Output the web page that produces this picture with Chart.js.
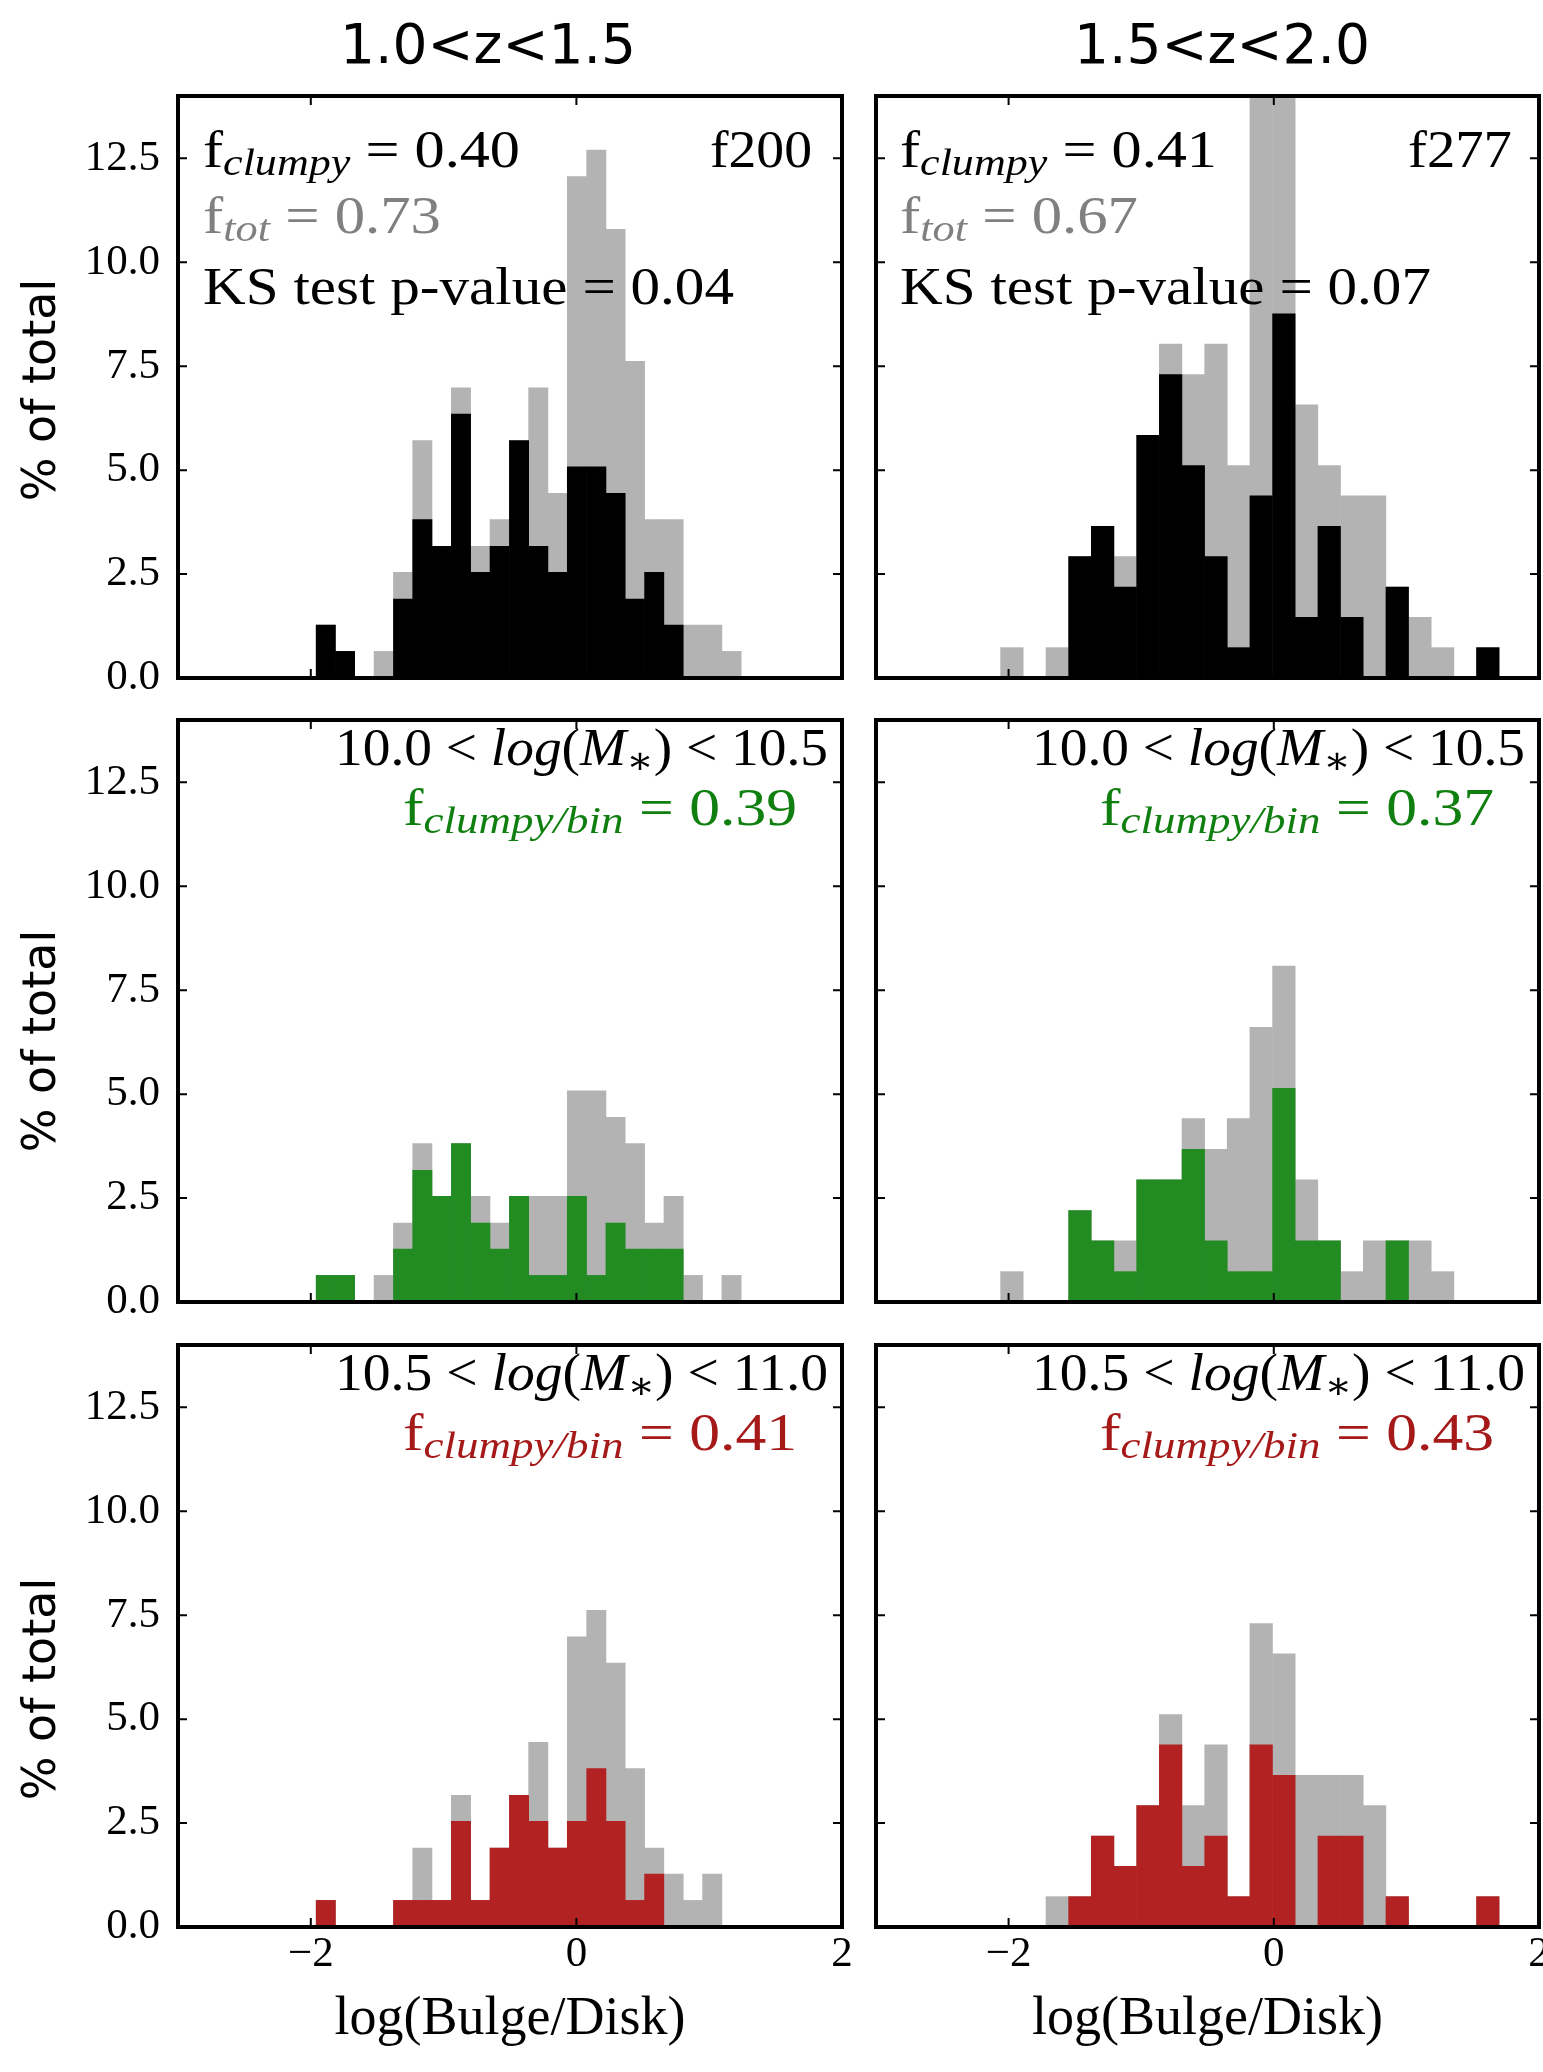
<!DOCTYPE html>
<html>
<head>
<meta charset="utf-8">
<script src="https://cdn.jsdelivr.net/npm/chart.js@4.4.1/dist/chart.umd.min.js"></script>
<style>
html, body { margin: 0; padding: 0; background: #ffffff; }
#page { position: relative; width: 1543px; height: 2072px; overflow: hidden; background: #ffffff; }
.box { position: absolute; }
.box canvas { display: block; }
#ann { position: absolute; left: 0; top: 0; }
#ann text { white-space: pre; }
</style>
</head>
<body>
<div id="page">
  <div class="box" id="box0"><canvas id="c0"></canvas></div>
  <div class="box" id="box1"><canvas id="c1"></canvas></div>
  <div class="box" id="box2"><canvas id="c2"></canvas></div>
  <div class="box" id="box3"><canvas id="c3"></canvas></div>
  <div class="box" id="box4"><canvas id="c4"></canvas></div>
  <div class="box" id="box5"><canvas id="c5"></canvas></div>

  <svg id="ann" width="1543" height="2072" font-family="'Liberation Serif', 'DejaVu Serif', serif" font-size="52" fill="#000000">
    <!-- column titles -->
    <text x="488" y="63" font-family="'DejaVu Sans', sans-serif" font-size="55" text-anchor="middle">1.0&lt;z&lt;1.5</text>
    <text x="1222" y="63" font-family="'DejaVu Sans', sans-serif" font-size="55" text-anchor="middle">1.5&lt;z&lt;2.0</text>

    <!-- y axis labels -->
    <text transform="translate(55,390) rotate(-90)" font-family="'DejaVu Sans', sans-serif" font-size="46" text-anchor="middle">% of total</text>
    <text transform="translate(55,1041) rotate(-90)" font-family="'DejaVu Sans', sans-serif" font-size="46" text-anchor="middle">% of total</text>
    <text transform="translate(55,1689) rotate(-90)" font-family="'DejaVu Sans', sans-serif" font-size="46" text-anchor="middle">% of total</text>

    <!-- top-left annotations -->
    <text x="203" y="167" textLength="317" lengthAdjust="spacingAndGlyphs">f<tspan font-size="38" font-style="italic" dy="8">clumpy</tspan><tspan dy="-8"> = 0.40</tspan></text>
    <text x="812" y="167" text-anchor="end" textLength="102" lengthAdjust="spacingAndGlyphs">f200</text>
    <text x="203" y="233" fill="#808080" textLength="238" lengthAdjust="spacingAndGlyphs">f<tspan font-size="38" font-style="italic" dy="8">tot</tspan><tspan dy="-8"> = 0.73</tspan></text>
    <text x="203" y="304" textLength="531" lengthAdjust="spacingAndGlyphs">KS test p-value = 0.04</text>

    <!-- top-right annotations -->
    <text x="900" y="167" textLength="317" lengthAdjust="spacingAndGlyphs">f<tspan font-size="38" font-style="italic" dy="8">clumpy</tspan><tspan dy="-8"> = 0.41</tspan></text>
    <text x="1512" y="167" text-anchor="end" textLength="104" lengthAdjust="spacingAndGlyphs">f277</text>
    <text x="900" y="233" fill="#808080" textLength="238" lengthAdjust="spacingAndGlyphs">f<tspan font-size="38" font-style="italic" dy="8">tot</tspan><tspan dy="-8"> = 0.67</tspan></text>
    <text x="900" y="304" textLength="531" lengthAdjust="spacingAndGlyphs">KS test p-value = 0.07</text>

    <!-- middle row -->
    <text x="828" y="765" text-anchor="end" textLength="493" lengthAdjust="spacingAndGlyphs">10.0 &lt; <tspan font-style="italic">log</tspan>(<tspan font-style="italic">M</tspan><tspan font-size="38" dy="8">∗</tspan><tspan dy="-8">) &lt; 10.5</tspan></text>
    <text x="797" y="825" fill="#0f7f0f" text-anchor="end" textLength="394" lengthAdjust="spacingAndGlyphs">f<tspan font-size="38" font-style="italic" dy="8">clumpy/bin</tspan><tspan dy="-8"> = 0.39</tspan></text>
    <text x="1525" y="765" text-anchor="end" textLength="493" lengthAdjust="spacingAndGlyphs">10.0 &lt; <tspan font-style="italic">log</tspan>(<tspan font-style="italic">M</tspan><tspan font-size="38" dy="8">∗</tspan><tspan dy="-8">) &lt; 10.5</tspan></text>
    <text x="1494" y="825" fill="#0f7f0f" text-anchor="end" textLength="394" lengthAdjust="spacingAndGlyphs">f<tspan font-size="38" font-style="italic" dy="8">clumpy/bin</tspan><tspan dy="-8"> = 0.37</tspan></text>

    <!-- bottom row -->
    <text x="828" y="1390" text-anchor="end" textLength="493" lengthAdjust="spacingAndGlyphs">10.5 &lt; <tspan font-style="italic">log</tspan>(<tspan font-style="italic">M</tspan><tspan font-size="38" dy="8">∗</tspan><tspan dy="-8">) &lt; 11.0</tspan></text>
    <text x="797" y="1450" fill="#a51919" text-anchor="end" textLength="394" lengthAdjust="spacingAndGlyphs">f<tspan font-size="38" font-style="italic" dy="8">clumpy/bin</tspan><tspan dy="-8"> = 0.41</tspan></text>
    <text x="1525" y="1390" text-anchor="end" textLength="493" lengthAdjust="spacingAndGlyphs">10.5 &lt; <tspan font-style="italic">log</tspan>(<tspan font-style="italic">M</tspan><tspan font-size="38" dy="8">∗</tspan><tspan dy="-8">) &lt; 11.0</tspan></text>
    <text x="1494" y="1450" fill="#a51919" text-anchor="end" textLength="394" lengthAdjust="spacingAndGlyphs">f<tspan font-size="38" font-style="italic" dy="8">clumpy/bin</tspan><tspan dy="-8"> = 0.43</tspan></text>
  </svg>
</div>

<script>
// ---------------- DATA ----------------
// bin centres of log(Bulge/Disk)
const binsLeft  = [-1.887, -1.742, -1.596, -1.451, -1.305, -1.160, -1.014, -0.869, -0.723, -0.578, -0.432,
                   -0.287, -0.141, 0.004, 0.150, 0.295, 0.441, 0.586, 0.732, 0.877, 1.023, 1.168];
const binsRight = [-1.975, -1.804, -1.633, -1.462, -1.291, -1.120, -0.949, -0.778, -0.607, -0.436, -0.266,
                   -0.095, 0.076, 0.247, 0.418, 0.589, 0.760, 0.931, 1.102, 1.273, 1.443, 1.614];

// % of total — grey (all) and coloured (clumpy) histograms
const greyTopLeft   = [1.27, 0.64, 0, 0.64, 2.54, 5.71, 3.17, 6.98, 3.17, 3.81, 5.71, 6.98, 4.44, 12.06, 12.70, 10.79, 7.62, 3.81, 3.81, 1.27, 1.27, 0.64];
const clumpyTopLeft = [1.27, 0.64, 0, 0, 1.90, 3.81, 3.17, 6.35, 2.54, 3.17, 5.71, 3.17, 2.54, 5.08, 5.08, 4.44, 1.90, 2.54, 1.27, 0, 0, 0];

const greyTopRight   = [0.73, 0, 0.73, 2.92, 3.65, 2.92, 5.84, 8.03, 7.30, 8.03, 5.11, 15.3, 15.3, 6.57, 5.11, 4.38, 4.38, 2.19, 1.46, 0.73, 0, 0.73];
const clumpyTopRight = [0, 0, 0, 2.92, 3.65, 2.19, 5.84, 7.30, 5.11, 2.92, 0.73, 4.38, 8.76, 1.46, 3.65, 1.46, 0, 2.19, 0, 0, 0, 0.73];

const greyMidLeft   = [0.64, 0.64, 0, 0.64, 1.90, 3.81, 2.54, 3.81, 2.54, 1.90, 2.54, 2.54, 2.54, 5.08, 5.08, 4.44, 3.81, 1.90, 2.54, 0.64, 0, 0.64];
const clumpyMidLeft = [0.64, 0.64, 0, 0, 1.27, 3.17, 2.54, 3.81, 1.90, 1.27, 2.54, 0.64, 0.64, 2.54, 0.64, 1.90, 1.27, 1.27, 1.27, 0, 0, 0];

const greyMidRight   = [0.73, 0, 0, 2.20, 1.47, 1.47, 2.94, 2.94, 4.41, 3.67, 4.41, 6.61, 8.08, 2.94, 1.47, 0.73, 1.47, 1.47, 1.47, 0.73, 0, 0];
const clumpyMidRight = [0, 0, 0, 2.20, 1.47, 0.73, 2.94, 2.94, 3.67, 1.47, 0.73, 0.73, 5.14, 1.47, 1.47, 0, 0, 1.47, 0, 0, 0, 0];

const greyBotLeft   = [0.64, 0, 0, 0, 0.64, 1.90, 0.64, 3.17, 0.64, 1.90, 3.17, 4.44, 1.90, 6.98, 7.62, 6.35, 3.81, 1.90, 1.27, 0.64, 1.27, 0];
const clumpyBotLeft = [0.64, 0, 0, 0, 0.64, 0.64, 0.64, 2.54, 0.64, 1.90, 3.17, 2.54, 1.90, 2.54, 3.81, 2.54, 0.64, 1.27, 0, 0, 0, 0];

const greyBotRight   = [0, 0, 0.73, 0.73, 2.19, 1.46, 2.92, 5.11, 2.92, 4.38, 0.73, 7.30, 6.57, 3.65, 3.65, 3.65, 2.92, 0.73, 0, 0, 0, 0.73];
const clumpyBotRight = [0, 0, 0, 0.73, 2.19, 1.46, 2.92, 4.38, 1.46, 2.19, 0.73, 4.38, 3.65, 0, 2.19, 2.19, 0, 0.73, 0, 0, 0, 0.73];

// axis ticks
const yTicks = [0, 2.5, 5, 7.5, 10, 12.5];
const xTicks = [-2, 0, 2];
const xTickLabels = ['\u22122', '0', '2'];
const xTitle = 'log(Bulge/Disk)';

// ---------------- LAYOUT / STYLE ----------------
const GREY = '#b3b3b3';
const colGeom = [
  { left: 0,   width: 860, padL: 0,  padR: 18, yW: 178, showY: true },
  { left: 860, width: 683, padL: 16, padR: 4,  yW: 0,   showY: false }
];
const rowGeom = [
  { top: 0,    height: 700, padT: 96, padB: 22, showX: false, xH: 0 },
  { top: 700,  height: 625, padT: 20, padB: 23, showX: false, xH: 0 },
  { top: 1325, height: 747, padT: 20, padB: 0,  showX: true,  xH: 145 }
];
const panels = [
  { id: 0, col: 0, row: 0, bins: binsLeft,  grey: greyTopLeft,  fg: clumpyTopLeft,  color: '#000000' },
  { id: 1, col: 1, row: 0, bins: binsRight, grey: greyTopRight, fg: clumpyTopRight, color: '#000000' },
  { id: 2, col: 0, row: 1, bins: binsLeft,  grey: greyMidLeft,  fg: clumpyMidLeft,  color: '#228b22' },
  { id: 3, col: 1, row: 1, bins: binsRight, grey: greyMidRight, fg: clumpyMidRight, color: '#228b22' },
  { id: 4, col: 0, row: 2, bins: binsLeft,  grey: greyBotLeft,  fg: clumpyBotLeft,  color: '#b22222' },
  { id: 5, col: 1, row: 2, bins: binsRight, grey: greyBotRight, fg: clumpyBotRight, color: '#b22222' }
];

const framePlugin = {
  id: 'frameTicks',
  afterDraw(chart) {
    const ctx = chart.ctx;
    const a = chart.chartArea;
    const xs = chart.scales.x, ys = chart.scales.y;
    ctx.save();
    ctx.strokeStyle = '#000000';
    ctx.lineWidth = 2;
    ctx.beginPath();
    yTicks.forEach(v => {
      const p = ys.getPixelForValue(v);
      ctx.moveTo(a.left, p); ctx.lineTo(a.left + 9, p);
      ctx.moveTo(a.right, p); ctx.lineTo(a.right - 9, p);
    });
    xTicks.forEach(v => {
      const p = xs.getPixelForValue(v);
      ctx.moveTo(p, a.top); ctx.lineTo(p, a.top + 9);
      ctx.moveTo(p, a.bottom); ctx.lineTo(p, a.bottom - 9);
    });
    ctx.stroke();
    ctx.lineWidth = 4;
    ctx.strokeRect(a.left, a.top, a.right - a.left, a.bottom - a.top);
    ctx.restore();
  }
};

Chart.defaults.font.family = "'Liberation Serif', 'DejaVu Serif', serif";
Chart.defaults.color = '#000000';

panels.forEach(p => {
  const cg = colGeom[p.col], rg = rowGeom[p.row];
  const box = document.getElementById('box' + p.id);
  box.style.left = cg.left + 'px';
  box.style.top = rg.top + 'px';
  box.style.width = cg.width + 'px';
  box.style.height = rg.height + 'px';
  const canvas = document.getElementById('c' + p.id);
  canvas.width = cg.width;
  canvas.height = rg.height;
  canvas.style.width = cg.width + 'px';
  canvas.style.height = rg.height + 'px';

  new Chart(canvas, {
    type: 'bar',
    data: {
      datasets: [
        {
          label: 'clumpy',
          data: p.bins.map((c, i) => ({ x: c, y: p.fg[i] })),
          backgroundColor: p.color,
          borderWidth: 0,
          grouped: false,
          barPercentage: 1.0,
          categoryPercentage: 1.0,
          order: 0
        },
        {
          label: 'all',
          data: p.bins.map((c, i) => ({ x: c, y: p.grey[i] })),
          backgroundColor: GREY,
          borderWidth: 0,
          grouped: false,
          barPercentage: 1.0,
          categoryPercentage: 1.0,
          order: 1
        }
      ]
    },
    options: {
      responsive: false,
      animation: false,
      events: [],
      layout: { padding: { left: cg.padL, right: cg.padR, top: rg.padT, bottom: rg.padB } },
      plugins: { legend: { display: false }, tooltip: { enabled: false }, title: { display: false } },
      scales: {
        x: {
          type: 'linear',
          min: -3, max: 2,
          offset: false,
          display: rg.showX,
          grid: { display: false, drawTicks: false },
          border: { display: false },
          ticks: {
            autoSkip: false,
            maxRotation: 0,
            padding: 2,
            font: { size: 43 },
            color: '#000000',
            callback: (v) => { const k = xTicks.indexOf(v); return k >= 0 ? xTickLabels[k] : ''; }
          },
          title: {
            display: rg.showX,
            text: xTitle,
            color: '#000000',
            font: { size: 54 },
            padding: { top: 0, bottom: 20 }
          },
          afterBuildTicks: (s) => { s.ticks = xTicks.map(v => ({ value: v })); },
          afterFit: (s) => { s.height = rg.xH; s.paddingLeft = 0; s.paddingRight = 0; }
        },
        y: {
          type: 'linear',
          min: 0, max: 14,
          display: cg.showY,
          grid: { display: false, drawTicks: false },
          border: { display: false },
          ticks: {
            autoSkip: false,
            padding: 18,
            font: { size: 43 },
            color: '#000000',
            callback: (v) => Number(v).toFixed(1)
          },
          afterBuildTicks: (s) => { s.ticks = yTicks.map(v => ({ value: v })); },
          afterFit: (s) => { s.width = cg.yW; s.paddingTop = 0; s.paddingBottom = 0; }
        }
      }
    },
    plugins: [framePlugin]
  });
});
</script>
</body>
</html>
